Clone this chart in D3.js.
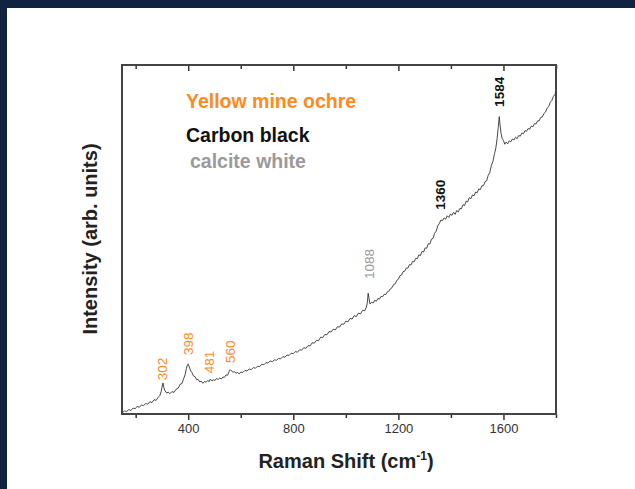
<!DOCTYPE html>
<html>
<head>
<meta charset="utf-8">
<script src="https://cdn.jsdelivr.net/npm/d3@7"></script>
<style>
  body { margin: 0; background: #10243f; }
  text { font-family: "Liberation Sans", Arial, sans-serif; }
</style>
</head>
<body>
<div id="chart"></div>
<script>
// spectrum: [Raman shift, intensity]
const spectrum = [
  [150, 0.4], [158, 0.9], [166, 0.7], [174, 1.3], [182, 1.0], [190, 1.7], [198, 1.5],
  [206, 2.2], [214, 1.9], [222, 2.6], [230, 2.4], [238, 3.0], [246, 2.8], [254, 3.5],
  [262, 3.3], [270, 4.1], [278, 3.9], [286, 4.8], [292, 5.3], [297, 6.4], [300, 7.6],
  [304, 8.9], [307, 7.6], [312, 6.6], [318, 6.0], [324, 6.3], [330, 5.8], [338, 6.4],
  [346, 6.2], [354, 7.1], [362, 7.4], [370, 8.6], [376, 8.7], [382, 10.0], [388, 11.2],
  [393, 13.0], [397, 14.1], [400, 14.3], [404, 13.5], [409, 12.4], [414, 11.9], [420, 10.9],
  [426, 10.7], [432, 9.8], [438, 9.9], [444, 9.2], [450, 9.4], [456, 8.8], [462, 9.3],
  [468, 9.1], [474, 9.6], [480, 9.3], [484, 10.0], [490, 9.5], [496, 9.8], [502, 9.6],
  [508, 10.2], [514, 9.9], [520, 10.3], [526, 10.0], [532, 10.6], [538, 10.5], [544, 11.2],
  [550, 11.1], [556, 12.2], [560, 12.7], [564, 12.4], [570, 12.0], [576, 12.1], [582, 11.7],
  [588, 11.9], [594, 11.5], [600, 12.0], [608, 11.9], [616, 12.5], [624, 12.3], [632, 12.9],
  [640, 12.7], [648, 13.3], [656, 13.1], [664, 13.7], [672, 13.6], [680, 14.3], [688, 14.1],
  [696, 14.7], [704, 14.6], [712, 15.2], [720, 15.0], [728, 15.5], [736, 15.4], [744, 15.9],
  [752, 15.8], [760, 16.4], [768, 16.3], [776, 16.9], [784, 16.8], [792, 17.4], [800, 17.3],
  [808, 17.9], [816, 17.7], [824, 18.4], [832, 18.3], [840, 19.0], [848, 18.8], [856, 19.6],
  [864, 19.5], [872, 20.4], [880, 20.3], [888, 21.1], [896, 21.0], [904, 22.0], [912, 21.9],
  [920, 22.8], [928, 22.7], [936, 23.6], [944, 23.5], [952, 24.3], [960, 24.1], [968, 25.0],
  [976, 24.9], [984, 25.8], [992, 25.7], [1000, 26.6], [1008, 26.4], [1016, 27.4],
  [1024, 27.2], [1032, 28.2], [1040, 27.9], [1048, 28.9], [1056, 28.7], [1064, 29.7],
  [1072, 29.6], [1078, 30.6], [1082, 32.0], [1085, 34.6], [1088, 33.2], [1092, 31.5],
  [1098, 32.0], [1104, 31.8], [1110, 32.6], [1116, 32.3], [1122, 33.1], [1128, 32.9],
  [1134, 33.7], [1140, 33.6], [1146, 34.3], [1152, 34.2], [1158, 35.0], [1164, 35.2],
  [1170, 35.9], [1176, 36.2], [1182, 37.1], [1188, 37.3], [1194, 38.3], [1200, 38.6],
  [1206, 39.6], [1212, 39.8], [1218, 40.8], [1224, 40.9], [1230, 41.8], [1236, 41.8],
  [1242, 42.8], [1248, 42.7], [1254, 43.7], [1260, 43.6], [1266, 44.6], [1272, 44.5],
  [1278, 45.6], [1284, 45.4], [1290, 46.6], [1296, 46.4], [1302, 47.6], [1308, 47.5],
  [1314, 48.8], [1320, 48.7], [1326, 50.1], [1332, 50.3], [1338, 51.8], [1344, 52.4],
  [1350, 53.9], [1356, 54.6], [1362, 55.6], [1368, 55.4], [1374, 56.2], [1380, 55.8],
  [1386, 56.8], [1392, 56.3], [1398, 57.3], [1404, 56.9], [1410, 57.8], [1416, 57.2],
  [1422, 58.3], [1428, 57.9], [1434, 58.9], [1440, 58.8], [1446, 60.0], [1452, 59.7],
  [1458, 61.0], [1464, 60.8], [1470, 62.0], [1476, 61.7], [1482, 62.8], [1488, 62.5],
  [1494, 63.6], [1500, 63.4], [1506, 64.5], [1512, 64.3], [1518, 65.4], [1524, 65.4],
  [1530, 66.6], [1536, 66.8], [1542, 68.4], [1548, 69.2], [1554, 71.2], [1560, 72.4],
  [1566, 74.6], [1571, 76.2], [1576, 79.0], [1580, 82.0], [1584, 85.2], [1587, 82.8],
  [1591, 80.4], [1595, 78.9], [1600, 78.4], [1605, 77.3], [1610, 77.9], [1616, 77.4],
  [1622, 78.3], [1628, 78.0], [1634, 78.8], [1640, 78.5], [1646, 79.3], [1652, 78.9],
  [1658, 79.8], [1664, 79.6], [1670, 80.5], [1676, 80.3], [1682, 81.2], [1688, 81.0],
  [1694, 81.8], [1700, 81.6], [1706, 82.5], [1712, 82.3], [1718, 83.2], [1724, 83.1],
  [1730, 84.0], [1736, 84.0], [1742, 85.0], [1748, 85.1], [1754, 86.1], [1760, 86.5],
  [1766, 87.6], [1772, 88.1], [1778, 89.3], [1784, 89.8], [1790, 91.0], [1796, 91.6],
  [1800, 92.3]
];

// peak labels: position, height of label foot, pigment
const peaks = [
  { shift: 302, foot: 9.7, pigment: "ochre" },
  { shift: 398, foot: 16.9, pigment: "ochre" },
  { shift: 481, foot: 11.7, pigment: "ochre" },
  { shift: 560, foot: 14.6, pigment: "ochre" },
  { shift: 1088, foot: 38.7, pigment: "calcite" },
  { shift: 1360, foot: 58.5, pigment: "carbon" },
  { shift: 1584, foot: 88.0, pigment: "carbon" }
];

const pigments = ["ochre", "carbon", "calcite"];
const pigmentNames = ["Yellow mine ochre", "Carbon black", "calcite white"];
const pigmentColors = ["#ff8a1c", "#111111", "#9a9a9a"];

const tickValues = [200, 400, 600, 800, 1000, 1200, 1400, 1600, 1800];
const labelledTicks = [400, 800, 1200, 1600];

const width = 635,
  height = 489,
  margin = { top: 65, right: 79, bottom: 75, left: 122 };

const svg = d3
  .select("#chart")
  .append("svg")
  .attr("width", width)
  .attr("height", height);

// white sheet, navy shows on top and left
svg
  .append("rect")
  .attr("x", 7)
  .attr("y", 8)
  .attr("width", width - 7)
  .attr("height", height - 8)
  .attr("fill", "#ffffff");

const x = d3
  .scaleLinear()
  .domain([148, 1800])
  .range([margin.left, width - margin.right]);

const y = d3
  .scaleLinear()
  .domain([0, 100])
  .range([height - margin.bottom, margin.top]);

const color = d3.scaleOrdinal().domain(pigments).range(pigmentColors);

// bottom axis, ticks outward
const major = (v) => labelledTicks.includes(v);
svg
  .append("g")
  .attr("transform", `translate(0,${y(0)})`)
  .call(
    d3
      .axisBottom(x)
      .tickValues(tickValues)
      .tickSize(0)
      .tickPadding(10)
      .tickFormat((d) => (major(d) ? d : ""))
  )
  .call((g) => g.select(".domain").remove())
  .call((g) =>
    g
      .selectAll(".tick line")
      .attr("y2", (d) => (major(d) ? 6 : 4))
      .attr("stroke", "#333")
      .attr("stroke-width", 1.5)
  )
  .call((g) =>
    g.selectAll(".tick text").attr("font-size", 13).attr("fill", "#333")
  );

// top axis, ticks inward
svg
  .append("g")
  .attr("transform", `translate(0,${y(100)})`)
  .call(d3.axisBottom(x).tickValues(tickValues).tickSize(0).tickFormat(""))
  .call((g) => g.select(".domain").remove())
  .call((g) =>
    g
      .selectAll(".tick line")
      .attr("y2", (d) => (major(d) ? 6 : 4))
      .attr("stroke", "#333")
      .attr("stroke-width", 1.5)
  );

// frame
svg
  .append("rect")
  .attr("x", x.range()[0])
  .attr("y", y(100))
  .attr("width", x.range()[1] - x.range()[0])
  .attr("height", y(0) - y(100))
  .attr("fill", "none")
  .attr("stroke", "#444")
  .attr("stroke-width", 2);

const line = d3
  .line()
  .x((d) => x(d[0]))
  .y((d) => y(d[1]));

svg
  .append("path")
  .datum(spectrum)
  .attr("d", line)
  .attr("fill", "none")
  .attr("stroke", "#333")
  .attr("stroke-width", 0.9);

// peak labels, reading upward
svg
  .selectAll("text.peak")
  .data(peaks)
  .join("text")
  .attr("class", "peak")
  .attr(
    "transform",
    (d) => `translate(${x(d.shift) + 5},${y(d.foot)}) rotate(-90)`
  )
  .attr("font-size", 13.5)
  .attr("font-weight", (d) => (d.pigment === "carbon" ? "bold" : "normal"))
  .attr("fill", (d) => color(d.pigment))
  .text((d) => d.shift);

// legend
svg
  .selectAll("text.legend")
  .data(pigments)
  .join("text")
  .attr("class", "legend")
  .attr("x", (d, i) => (i === 2 ? 190 : 186))
  .attr("y", (d, i) => [108, 142, 168][i])
  .attr("font-size", 19.5)
  .attr("font-weight", "bold")
  .attr("fill", (d) => color(d))
  .text((d, i) => pigmentNames[i]);

// axis titles
const xTitle = svg
  .append("text")
  .attr("x", 346)
  .attr("y", 468)
  .attr("text-anchor", "middle")
  .attr("font-size", 20)
  .attr("font-weight", "bold")
  .attr("fill", "#222")
  .text("Raman Shift (cm");
xTitle.append("tspan").attr("dy", -8).attr("font-size", 12).text("-1");
xTitle.append("tspan").attr("dy", 8).text(")");

svg
  .append("text")
  .attr("transform", `translate(97,239) rotate(-90)`)
  .attr("text-anchor", "middle")
  .attr("font-size", 20)
  .attr("font-weight", "bold")
  .attr("fill", "#222")
  .text("Intensity (arb. units)");
</script>
</body>
</html>
